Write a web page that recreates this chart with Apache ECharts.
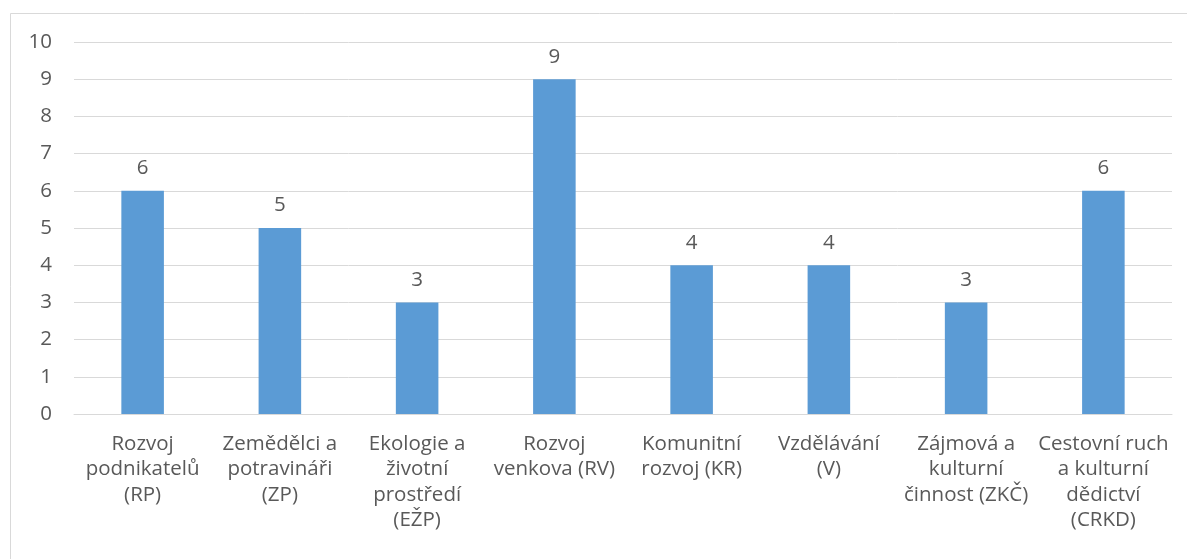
<!DOCTYPE html>
<html>
<head>
<meta charset="utf-8">
<script src="https://cdn.jsdelivr.net/npm/echarts@6/dist/echarts.min.js"></script>
<style>
  html, body { margin: 0; padding: 0; background: #fff; }
  #chart { width: 1187px; height: 559px; }
</style>
</head>
<body>
<div id="chart"></div>
<script>
const categories = [
  'Rozvoj\npodnikatelů\n(RP)',
  'Zemědělci a\npotravináři\n(ZP)',
  'Ekologie a\nživotní\nprostředí\n(EŽP)',
  'Rozvoj\nvenkova (RV)',
  'Komunitní\nrozvoj (KR)',
  'Vzdělávání\n(V)',
  'Zájmová a\nkulturní\nčinnost (ZKČ)',
  'Cestovní ruch\na kulturní\ndědictví\n(CRKD)'
]
const values = [6, 5, 3, 9, 4, 4, 3, 6]
const yMin = 0
const yMax = 10
const yStep = 1

const fontFamily = '"Open Sans", Lato, sans-serif'
const textColor = '#595959'

const chart = echarts.init(document.getElementById('chart'), null, { renderer: 'canvas' })

chart.setOption({
  backgroundColor: '#fff',
  animation: false,
  graphic: [
    {
      type: 'rect',
      shape: { x: 10.5, y: 13.5, width: 1300, height: 700 },
      style: { fill: 'none', stroke: '#d9d9d9', lineWidth: 1 },
      silent: true
    }
  ],
  grid: {
    left: 74,
    right: 15,
    top: 42,
    bottom: 145
  },
  xAxis: {
    type: 'category',
    data: categories,
    axisLine: { lineStyle: { color: '#d9d9d9' } },
    axisTick: { show: false },
    axisLabel: {
      interval: 0,
      margin: 17,
      color: textColor,
      fontFamily,
      fontSize: 20.5,
      lineHeight: 25.5
    }
  },
  yAxis: {
    type: 'value',
    min: yMin,
    max: yMax,
    interval: yStep,
    axisLine: { show: false },
    axisTick: { show: false },
    axisLabel: {
      margin: 22,
      color: textColor,
      fontFamily,
      fontSize: 20.5
    },
    splitLine: { lineStyle: { color: '#d9d9d9', width: 1 } }
  },
  series: [
    {
      type: 'bar',
      data: values,
      barWidth: '31%',
      itemStyle: { color: '#5b9bd5' },
      label: {
        show: true,
        position: 'top',
        distance: 12,
        color: textColor,
        fontFamily,
        fontSize: 20.5
      }
    }
  ]
})
</script>
</body>
</html>
